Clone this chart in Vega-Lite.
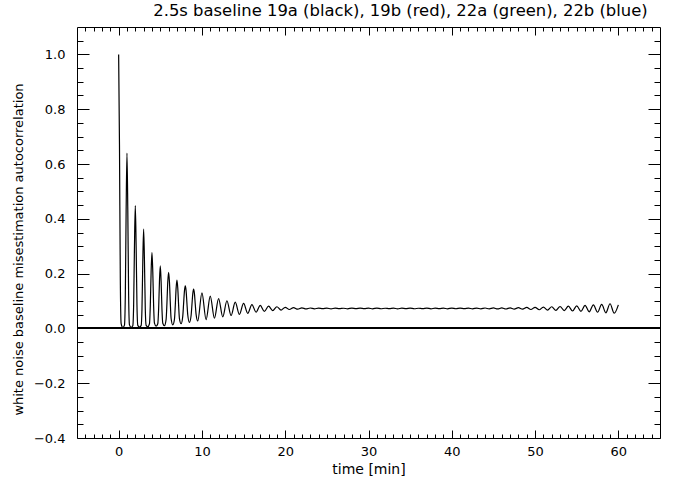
{
  "$schema": "https://vega.github.io/schema/vega-lite/v6.json",
  "width": 583,
  "height": 411,
  "autosize": "none",
  "padding": {"left": 77, "top": 27, "right": 23, "bottom": 49},
  "background": "white",
  "title": {"text": "2.5s baseline 19a (black), 19b (red), 22a (green), 22b (blue)", "font": "DejaVu Sans", "fontSize": 16.4, "fontWeight": "normal", "color": "black", "offset": 7, "dx": 32},
  "config": {
    "view": {"stroke": null},
    "axis": {"grid": false, "domainColor": "black", "domainWidth": 1, "tickColor": "black", "tickWidth": 1, "labelColor": "black", "titleColor": "black", "labelFont": "DejaVu Sans", "titleFont": "DejaVu Sans", "labelFontSize": 13, "titleFontSize": 13, "titleFontWeight": "normal"}
  },
  "data": {"values": [
    {"t":0,"v":1.0},{"t":0.1,"v":0.671},{"t":0.2,"v":0.182},{"t":0.3,"v":0.017},{"t":0.5,"v":0.003},{"t":0.7,"v":0.012},{"t":0.8,"v":0.118},{"t":0.9,"v":0.43},
    {"t":1,"v":0.64},{"t":1.1,"v":0.43},{"t":1.2,"v":0.118},{"t":1.3,"v":0.013},{"t":1.5,"v":0.004},{"t":1.7,"v":0.01},{"t":1.8,"v":0.084},{"t":1.9,"v":0.301},
    {"t":2,"v":0.448},{"t":2.1,"v":0.302},{"t":2.2,"v":0.085},{"t":2.3,"v":0.011},{"t":2.5,"v":0.005},{"t":2.7,"v":0.01},{"t":2.8,"v":0.069},{"t":2.9,"v":0.244},
    {"t":3,"v":0.362},{"t":3.1,"v":0.245},{"t":3.2,"v":0.07},{"t":3.3,"v":0.011},{"t":3.5,"v":0.006},{"t":3.7,"v":0.017},{"t":3.8,"v":0.082},{"t":3.9,"v":0.207},
    {"t":4,"v":0.277},{"t":4.1,"v":0.207},{"t":4.2,"v":0.083},{"t":4.3,"v":0.019},{"t":4.5,"v":0.008},{"t":4.7,"v":0.017},{"t":4.8,"v":0.07},{"t":4.9,"v":0.171},
    {"t":5,"v":0.228},{"t":5.1,"v":0.171},{"t":5.2,"v":0.071},{"t":5.3,"v":0.019},{"t":5.5,"v":0.01},{"t":5.7,"v":0.033},{"t":5.8,"v":0.093},{"t":5.9,"v":0.17},
    {"t":6,"v":0.205},{"t":6.1,"v":0.17},{"t":6.2,"v":0.095},{"t":6.3,"v":0.036},{"t":6.5,"v":0.013},{"t":6.7,"v":0.033},{"t":6.8,"v":0.083},{"t":6.9,"v":0.146},
    {"t":7,"v":0.176},{"t":7.1,"v":0.147},{"t":7.2,"v":0.085},{"t":7.3,"v":0.036},{"t":7.5,"v":0.017},{"t":7.7,"v":0.045},{"t":7.8,"v":0.09},{"t":7.9,"v":0.136},
    {"t":8,"v":0.155},{"t":8.1,"v":0.137},{"t":8.2,"v":0.092},{"t":8.3,"v":0.049},{"t":8.5,"v":0.022},{"t":8.7,"v":0.047},{"t":8.8,"v":0.086},{"t":8.9,"v":0.126},
    {"t":9,"v":0.143},{"t":9.1,"v":0.127},{"t":9.2,"v":0.088},{"t":9.3,"v":0.051},{"t":9.5,"v":0.027},
    {"t":10,"v":0.13},{"t":10.5,"v":0.032},{"t":11,"v":0.118},{"t":11.5,"v":0.037},{"t":12,"v":0.109},{"t":12.5,"v":0.042},
    {"t":13,"v":0.101},{"t":13.5,"v":0.047},{"t":14,"v":0.096},{"t":14.5,"v":0.051},{"t":15,"v":0.091},{"t":15.5,"v":0.055},
    {"t":16,"v":0.087},{"t":16.5,"v":0.059},{"t":17,"v":0.084},{"t":17.5,"v":0.062},{"t":18,"v":0.081},{"t":18.5,"v":0.065},
    {"t":19,"v":0.079},{"t":19.5,"v":0.067},{"t":20,"v":0.077},{"t":20.5,"v":0.069},{"t":21,"v":0.076},{"t":21.5,"v":0.07},
    {"t":22,"v":0.075},{"t":22.5,"v":0.071},
    {"t":23,"v":0.0745},{"t":23.5,"v":0.0715},{"t":24,"v":0.074},{"t":24.5,"v":0.072},{"t":25,"v":0.0738},{"t":25.5,"v":0.0712},
    {"t":26,"v":0.0742},{"t":26.5,"v":0.0722},{"t":27,"v":0.0736},{"t":27.5,"v":0.0716},{"t":28,"v":0.0741},{"t":28.5,"v":0.0719},
    {"t":29,"v":0.0737},{"t":29.5,"v":0.0721},{"t":30,"v":0.0739},{"t":30.5,"v":0.0714},{"t":31,"v":0.0743},{"t":31.5,"v":0.0718},
    {"t":32,"v":0.0735},{"t":32.5,"v":0.072},{"t":33,"v":0.074},{"t":33.5,"v":0.0713},{"t":34,"v":0.0738},{"t":34.5,"v":0.0721},
    {"t":35,"v":0.0742},{"t":35.5,"v":0.0717},{"t":36,"v":0.0736},{"t":36.5,"v":0.0719},{"t":37,"v":0.0741},{"t":37.5,"v":0.0716},
    {"t":38,"v":0.0739},{"t":38.5,"v":0.072},{"t":39,"v":0.0737},{"t":39.5,"v":0.0715},{"t":40,"v":0.0742},{"t":40.5,"v":0.0718},
    {"t":41,"v":0.0738},{"t":41.5,"v":0.072},{"t":42,"v":0.074},{"t":42.5,"v":0.0714},{"t":43,"v":0.0743},{"t":43.5,"v":0.0713},
    {"t":44,"v":0.0744},{"t":44.5,"v":0.0712},{"t":45,"v":0.0746},{"t":45.5,"v":0.071},{"t":46,"v":0.0747},{"t":46.5,"v":0.0708},
    {"t":47,"v":0.075},{"t":47.5,"v":0.0705},{"t":48,"v":0.0755},{"t":48.5,"v":0.07},{"t":49,"v":0.0765},{"t":49.5,"v":0.069},
    {"t":50,"v":0.077},{"t":50.5,"v":0.068},{"t":51,"v":0.078},{"t":51.5,"v":0.067},{"t":52,"v":0.079},{"t":52.5,"v":0.066},
    {"t":53,"v":0.08},{"t":53.5,"v":0.065},{"t":54,"v":0.081},{"t":54.5,"v":0.0635},{"t":55,"v":0.0825},{"t":55.5,"v":0.062},
    {"t":56,"v":0.084},{"t":56.5,"v":0.0605},{"t":57,"v":0.086},{"t":57.5,"v":0.059},{"t":58,"v":0.0875},{"t":58.5,"v":0.057},
    {"t":59,"v":0.09},{"t":59.5,"v":0.0555},{"t":60,"v":0.086}
  ]},
  "resolve": {"scale": {"x": "shared", "y": "shared"}, "axis": {"x": "independent", "y": "independent"}},
  "layer": [
    {
      "mark": {"type": "line", "color": "black", "strokeWidth": 1.2, "interpolate": "monotone"},
      "encoding": {
        "x": {"field": "t", "type": "quantitative", "scale": {"domain": [-5, 65], "nice": false, "zero": false},
          "axis": {"orient": "bottom", "values": [0, 10, 20, 30, 40, 50, 60], "tickSize": -8, "labelPadding": 15, "title": "time [min]", "titlePadding": 4, "titleFontSize": 14, "format": "d"}},
        "y": {"field": "v", "type": "quantitative", "scale": {"domain": [-0.4, 1.1], "nice": false, "zero": false},
          "axis": {"orient": "left", "values": [-0.4, -0.2, 0, 0.2, 0.4, 0.6, 0.8, 1.0], "tickSize": -12, "labelPadding": 24, "format": ".1f", "title": "white noise baseline misestimation autocorrelation", "titleFontSize": 13, "titlePadding": 8, "titleY": 222}}
      }
    },
    {
      "mark": {"type": "point", "opacity": 0},
      "encoding": {
        "x": {"field": "t", "type": "quantitative", "axis": {"orient": "top", "values": [0, 10, 20, 30, 40, 50, 60], "tickSize": -8, "labels": false, "title": null}},
        "y": {"field": "v", "type": "quantitative", "axis": {"orient": "right", "values": [-0.4, -0.2, 0, 0.2, 0.4, 0.6, 0.8, 1.0], "tickSize": -12, "labels": false, "title": null}}
      }
    },
    {
      "mark": {"type": "point", "opacity": 0},
      "encoding": {
        "x": {"field": "t", "type": "quantitative", "axis": {"orient": "bottom", "values": [-4,-3,-2,-1,1,2,3,4,5,6,7,8,9,11,12,13,14,15,16,17,18,19,21,22,23,24,25,26,27,28,29,31,32,33,34,35,36,37,38,39,41,42,43,44,45,46,47,48,49,51,52,53,54,55,56,57,58,59,61,62,63,64], "tickSize": -4, "labels": false, "domain": false, "title": null}},
        "y": {"field": "v", "type": "quantitative", "axis": {"orient": "left", "values": [-0.35,-0.3,-0.25,-0.15,-0.1,-0.05,0.05,0.1,0.15,0.25,0.3,0.35,0.45,0.5,0.55,0.65,0.7,0.75,0.85,0.9,0.95,1.05], "tickSize": -6, "labels": false, "domain": false, "title": null}}
      }
    },
    {
      "mark": {"type": "point", "opacity": 0},
      "encoding": {
        "x": {"field": "t", "type": "quantitative", "axis": {"orient": "top", "values": [-4,-3,-2,-1,1,2,3,4,5,6,7,8,9,11,12,13,14,15,16,17,18,19,21,22,23,24,25,26,27,28,29,31,32,33,34,35,36,37,38,39,41,42,43,44,45,46,47,48,49,51,52,53,54,55,56,57,58,59,61,62,63,64], "tickSize": -4, "labels": false, "domain": false, "title": null}},
        "y": {"field": "v", "type": "quantitative", "axis": {"orient": "right", "values": [-0.35,-0.3,-0.25,-0.15,-0.1,-0.05,0.05,0.1,0.15,0.25,0.3,0.35,0.45,0.5,0.55,0.65,0.7,0.75,0.85,0.9,0.95,1.05], "tickSize": -6, "labels": false, "domain": false, "title": null}}
      }
    },
    {
      "mark": {"type": "rule", "color": "black", "strokeWidth": 1.2},
      "encoding": {"y": {"datum": 0, "axis": null}}
    }
  ]
}
